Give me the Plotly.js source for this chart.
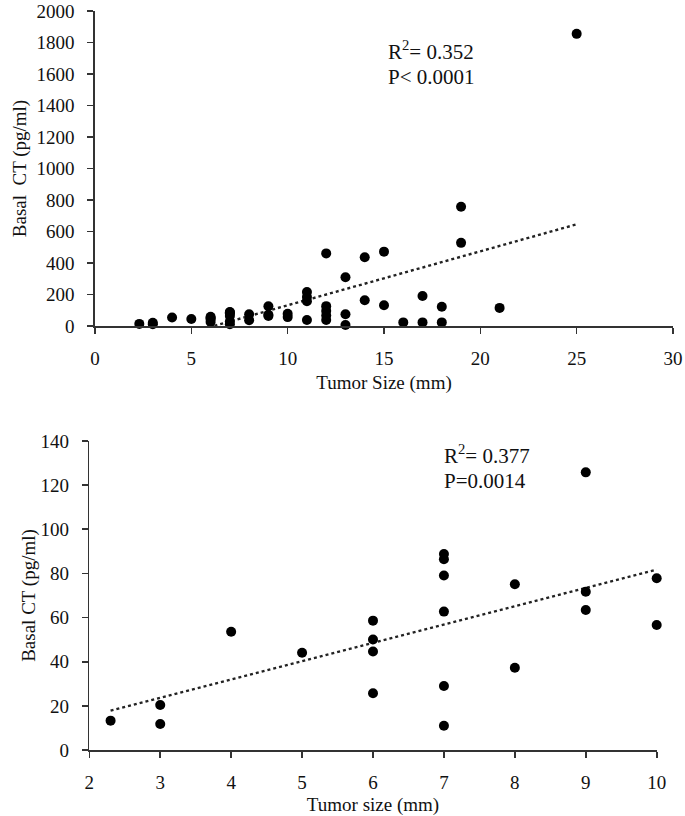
<!DOCTYPE html>
<html>
<head>
<meta charset="utf-8">
<script src="https://cdn.plot.ly/plotly-3.0.1.min.js"></script>
<style>html,body{margin:0;padding:0;background:#fff;}#chart{width:685px;height:816px;}</style>
</head>
<body>
<div id="chart"></div>
<script>
// Top panel: all tumors (tumor size mm, basal CT pg/ml)
const allSize = [2.3, 3, 3, 4, 5, 6, 6, 6, 6, 7, 7, 7, 7, 7, 7, 8, 8, 9, 9, 9, 10, 10,
  11, 11, 11, 11, 12, 12, 12, 12, 12, 13, 13, 13, 14, 14, 15, 15, 16, 17, 17, 18, 18, 19, 19, 21, 25];
const allCT = [13.3, 20.4, 11.8, 53.6, 44.1, 58.6, 50.1, 44.6, 25.7, 88.8, 86.4, 79.1, 62.7, 29, 11, 75.1, 37.3, 125.8, 71.7, 63.4, 77.8, 56.6,
  216, 184, 157, 38, 461, 126, 96, 67, 38, 310, 75, 6, 436, 164, 472, 132, 23, 191, 23, 122, 23, 757, 528, 115, 1855];

// Bottom panel: tumors <= 10 mm
const smallSize = [2.3, 3, 3, 4, 5, 6, 6, 6, 6, 7, 7, 7, 7, 7, 7, 8, 8, 9, 9, 9, 10, 10];
const smallCT = [13.3, 20.4, 11.8, 53.6, 44.1, 58.6, 50.1, 44.6, 25.7, 88.8, 86.4, 79.1, 62.7, 29, 11, 75.1, 37.3, 125.8, 71.7, 63.4, 77.8, 56.6];

const topStats = ["R<sup>2</sup>= 0.352", "P< 0.0001"];
const bottomStats = ["R<sup>2</sup>= 0.377", "P=0.0014"];

function ols(xs, ys) {
  const n = xs.length;
  const mx = xs.reduce((a, b) => a + b, 0) / n;
  const my = ys.reduce((a, b) => a + b, 0) / n;
  let sxy = 0, sxx = 0;
  for (let i = 0; i < n; i++) { sxy += (xs[i] - mx) * (ys[i] - my); sxx += (xs[i] - mx) ** 2; }
  const b = sxy / sxx;
  return { a: my - b * mx, b: b };
}
function trendTrace(xs, ys, xa, ya) {
  const f = ols(xs, ys);
  const x0 = Math.min(...xs), x1 = Math.max(...xs);
  const tx = [], ty = [];
  const N = 200;
  for (let i = 0; i <= N; i++) { const x = x0 + (x1 - x0) * i / N; tx.push(x); ty.push(f.a + f.b * x); }
  return { x: tx, y: ty, xaxis: xa, yaxis: ya, mode: 'lines', type: 'scatter',
    line: { color: '#222', width: 2.4, dash: 'dot' }, hoverinfo: 'skip', showlegend: false };
}

const font = { family: '"Liberation Serif", "Times New Roman", serif', color: '#111', size: 19 };
const annFont = { family: '"Liberation Serif", "Times New Roman", serif', color: '#111', size: 21 };
const marker = { color: '#000', size: 10 };

const traces = [
  trendTrace(allSize, allCT, 'x', 'y'),
  { x: allSize, y: allCT, xaxis: 'x', yaxis: 'y', mode: 'markers', type: 'scatter', marker: marker, showlegend: false, cliponaxis: false },
  trendTrace(smallSize, smallCT, 'x2', 'y2'),
  { x: smallSize, y: smallCT, xaxis: 'x2', yaxis: 'y2', mode: 'markers', type: 'scatter', marker: marker, showlegend: false, cliponaxis: false }
];

const axisCommon = {
  showgrid: false, zeroline: false, showline: true, linecolor: '#333', linewidth: 1.6,
  ticks: 'outside', ticklen: 6, tickwidth: 1.6, tickcolor: '#333', ticklabelstandoff: 9,
  ticklabeloverflow: 'allow',
  tickfont: font, mirror: false, fixedrange: true
};

const layout = {
  width: 685, height: 816,
  margin: { l: 0, r: 0, t: 0, b: 0 },
  paper_bgcolor: '#fff', plot_bgcolor: '#fff',
  font: font, showlegend: false,
  xaxis: Object.assign({}, axisCommon, { domain: [95 / 685, 673 / 685], range: [0, 30], tick0: 0, dtick: 5, anchor: 'y',
    title: { text: 'Tumor Size (mm)', font: font, standoff: 7 } }),
  yaxis: Object.assign({}, axisCommon, { domain: [1 - 326 / 816, 1 - 11 / 816], range: [0, 2000], tick0: 0, dtick: 200, anchor: 'x',
    title: { text: 'Basal  CT (pg/ml)', font: font, standoff: 5 } }),
  xaxis2: Object.assign({}, axisCommon, { domain: [89.3 / 685, 656.7 / 685], range: [2, 10], tick0: 2, dtick: 1, anchor: 'y2',
    title: { text: 'Tumor size (mm)', font: font, standoff: 12 } }),
  yaxis2: Object.assign({}, axisCommon, { domain: [1 - 750 / 816, 1 - 441 / 816], range: [0, 140], tick0: 0, dtick: 20, anchor: 'x2',
    title: { text: 'Basal CT (pg/ml)', font: font, standoff: 0 } }),
  annotations: [
    { xref: 'paper', yref: 'paper', x: 386 / 685, y: 1 - 50 / 816, xanchor: 'left', yanchor: 'middle', text: topStats[0], showarrow: false, font: annFont },
    { xref: 'paper', yref: 'paper', x: 386 / 685, y: 1 - 77 / 816, xanchor: 'left', yanchor: 'middle', text: topStats[1], showarrow: false, font: annFont },
    { xref: 'paper', yref: 'paper', x: 442 / 685, y: 1 - 454 / 816, xanchor: 'left', yanchor: 'middle', text: bottomStats[0], showarrow: false, font: annFont },
    { xref: 'paper', yref: 'paper', x: 442 / 685, y: 1 - 481 / 816, xanchor: 'left', yanchor: 'middle', text: bottomStats[1], showarrow: false, font: annFont }
  ]
};

Plotly.newPlot('chart', traces, layout, { displayModeBar: false, staticPlot: true });
</script>
</body>
</html>
